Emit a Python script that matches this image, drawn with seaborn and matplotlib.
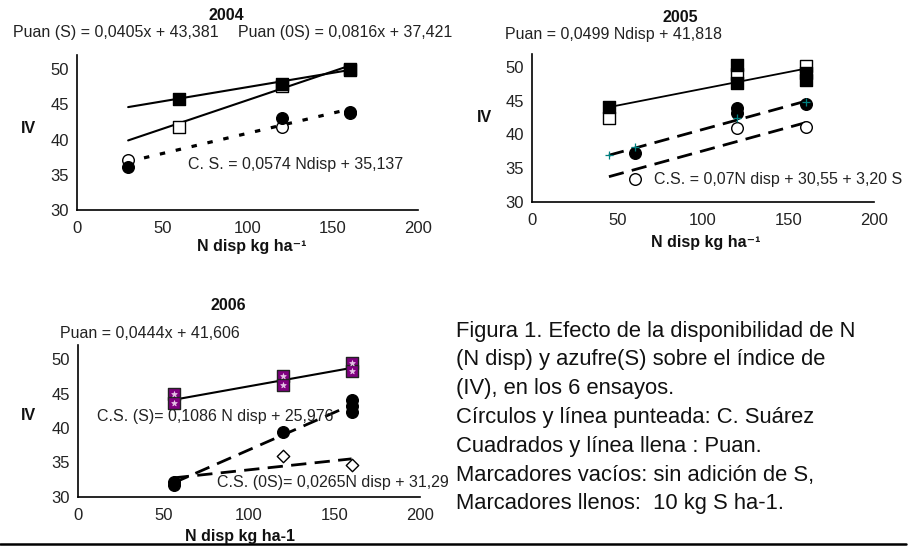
import seaborn as sns
import matplotlib.pyplot as plt
from matplotlib.transforms import Bbox

# Data (x = N disp kg/ha, y = IV)
# 2004
x04_puan_s = [60, 120, 160]
y04_puan_s = [45.8, 47.9, 50.0]
x04_puan_0s = [60, 120, 160]
y04_puan_0s = [41.8, 47.6, 49.9]
x04_cs_s = [30, 120, 160]
y04_cs_s = [36.1, 43.0, 43.9]
x04_cs_0s = [30, 120, 160]
y04_cs_0s = [37.1, 41.8, 43.8]

# 2005
x05_puan_0s = [45, 120, 160]
y05_puan_0s = [42.4, 49.0, 50.2]
x05_puan_s = [45, 120, 120, 160, 160]
y05_puan_s = [44.1, 50.3, 47.6, 49.2, 48.1]
x05_cs_s = [60, 120, 120, 160]
y05_cs_s = [37.3, 43.9, 43.2, 44.6]
x05_cs_0s = [60, 120, 160]
y05_cs_0s = [33.4, 40.9, 41.1]
x05_plus = [45, 60, 120, 160]
y05_plus = [37.0, 38.1, 42.4, 44.8]

# 2006
x06_puan = [56, 56, 120, 120, 160, 160]
y06_puan = [44.9, 43.6, 47.6, 46.3, 49.4, 48.3]
x06_cs_s = [56, 56, 120, 160, 160, 160]
y06_cs_s = [32.2, 31.8, 39.4, 44.1, 43.2, 42.3]
x06_cs_0s = [120, 160]
y06_cs_0s = [36.0, 34.7]

# trend lines as printed: (slope, intercept, x range)
fit04_puan_s = (0.0405, 43.381, [30, 160])
fit04_puan_0s = (0.0816, 37.421, [30, 160])
fit04_cs = (0.0574, 35.137, [30, 160])
fit05_puan = (0.0499, 41.818, [45, 160])
fit05_cs_s = (0.07, 30.55 + 3.20, [45, 160])
fit05_cs_0s = (0.07, 30.55, [45, 160])
fit06_puan = (0.0444, 41.606, [56, 160])
fit06_cs_s = (0.1086, 25.976, [56, 160])
fit06_cs_0s = (0.0265, 31.29, [56, 160])

caption = [
    "Figura 1. Efecto de la disponibilidad de N",
    "(N disp) y azufre(S) sobre el índice de",
    "(IV), en los 6 ensayos.",
    "Círculos y línea punteada: C. Suárez",
    "Cuadrados y línea llena : Puan.",
    "Marcadores vacíos: sin adición de S,",
    "Marcadores llenos:  10 kg S ha-1.",
]

sns.set_style("white")
plt.rcParams["font.family"] = ["Liberation Sans", "DejaVu Sans"]
plt.rcParams["axes.linewidth"] = 1.2

W, H = 911, 546
fig = plt.figure(figsize=(W / 100, H / 100), dpi=100)


def px(x, y):
    return x / W, 1 - y / H


def make_ax(left, right, bottom, top):
    ax = fig.add_axes([left / W, 1 - bottom / H, (right - left) / W, (bottom - top) / H])
    ax.set_xlim(0, 200)
    ax.set_ylim(30, 52)
    ax.set_xticks([0, 50, 100, 150, 200])
    ax.set_yticks([30, 35, 40, 45, 50])
    sns.despine(ax=ax)
    for s in ["left", "bottom"]:
        ax.spines[s].set_color("black")
    ax.tick_params(axis="both", direction="out", length=4, width=1.2, color="black",
                   labelsize=12, labelcolor="#222222")
    ax.tick_params(axis="x", pad=4)
    ax.tick_params(axis="y", pad=2)
    ax.set_xlabel("")
    ax.set_ylabel("")
    return ax


def trend(ax, fit, **kw):
    slope, icpt, xr = fit
    ys = [slope * v + icpt for v in xr]
    sns.lineplot(x=xr, y=ys, ax=ax, color="black", legend=False, zorder=2, **kw)


def pts(ax, x, y, marker, face, edge="black", s=70, lw=1.0, z=3):
    sns.scatterplot(x=x, y=y, ax=ax, marker=marker, color=face, edgecolor=edge,
                    s=s, linewidth=lw, legend=False, zorder=z)


dotted = (0, (1.7, 3.4))
dashed = (0, (5.5, 3.0))

# ---- 2004
ax1 = make_ax(77, 418, 210, 54.9)
trend(ax1, fit04_puan_s, linewidth=1.5)
trend(ax1, fit04_puan_0s, linewidth=1.5)
trend(ax1, fit04_cs, linewidth=2.3, linestyle=dotted)
pts(ax1, x04_puan_0s, y04_puan_0s, "s", "white")
pts(ax1, x04_puan_s, y04_puan_s, "s", "black", z=4)
pts(ax1, x04_cs_0s, y04_cs_0s, "o", "white")
pts(ax1, x04_cs_s, y04_cs_s, "o", "black", z=4)

# ---- 2005
ax2 = make_ax(532, 874, 201.5, 53.9)
trend(ax2, fit05_puan, linewidth=1.3)
trend(ax2, fit05_cs_s, linewidth=2.0, linestyle=dashed)
trend(ax2, fit05_cs_0s, linewidth=2.0, linestyle=dashed)
pts(ax2, x05_puan_0s, y05_puan_0s, "s", "white")
pts(ax2, x05_puan_s, y05_puan_s, "s", "black", z=4)
pts(ax2, x05_cs_s, y05_cs_s, "o", "black")
pts(ax2, x05_cs_0s, y05_cs_0s, "o", "white", z=4)
pts(ax2, x05_plus, y05_plus, "+", "#008080", s=40, lw=0.9, z=5)

# ---- 2006
ax3 = make_ax(78, 420, 497, 345.2)
trend(ax3, fit06_puan, linewidth=1.5)
trend(ax3, fit06_cs_s, linewidth=2.0, linestyle=dashed)
trend(ax3, fit06_cs_0s, linewidth=2.0, linestyle=dashed)
pts(ax3, x06_puan, y06_puan, "s", "#800080", edge="#222222")
pts(ax3, x06_puan, y06_puan, "*", "#e8c8e8", edge="#e8c8e8", s=18, lw=0.5, z=4)
pts(ax3, x06_cs_0s, y06_cs_0s, "D", "white", s=40)
pts(ax3, x06_cs_s, y06_cs_s, "o", "black", z=4)

# ---- texts
txt = dict(fontsize=11.5, color="#222222", va="center")
bold = dict(fontsize=11.5, fontweight="bold", color="#111111", va="center", ha="center")

fig.text(*px(226, 15), "2004", **bold)
fig.text(*px(13, 33), "Puan (S) = 0,0405x + 43,381", **txt)
fig.text(*px(238, 33), "Puan (0S) = 0,0816x + 37,421", **txt)
fig.text(*px(28, 128), "IV", **bold)
fig.text(*px(188, 165), "C. S. = 0,0574 Ndisp + 35,137", **txt)
fig.text(*px(252, 247), "N disp kg ha⁻¹", **bold)

fig.text(*px(680, 17), "2005", **bold)
fig.text(*px(505, 35), "Puan = 0,0499 Ndisp + 41,818", **txt)
fig.text(*px(484, 118), "IV", **bold)
fig.text(*px(654, 180), "C.S. = 0,07N disp + 30,55 + 3,20 S", **txt)
fig.text(*px(706, 242), "N disp kg ha⁻¹", **bold)

fig.text(*px(228, 305), "2006", **bold)
fig.text(*px(60, 333), "Puan = 0,0444x + 41,606", **txt)
fig.text(*px(28, 415), "IV", **bold)
fig.text(*px(97, 416), "C.S. (S)= 0,1086 N disp + 25,976", **txt)
t = fig.text(*px(217, 482), "C.S. (0S)= 0,0265N disp + 31,297", **txt)
t.set_clip_box(Bbox([[0, 0], [449, H]]))
t.set_clip_on(True)
fig.text(*px(240, 537), "N disp kg ha-1", **bold)

for i, line in enumerate(caption):
    fig.text(*px(456, 331 + i * 28.8), line, fontsize=15.8, color="#111111", va="center")

fig.add_artist(plt.Line2D([0, 0.995], [1 - 544 / H, 1 - 544 / H], color="black", linewidth=1.8))

fig.savefig("out.png", dpi=100)
